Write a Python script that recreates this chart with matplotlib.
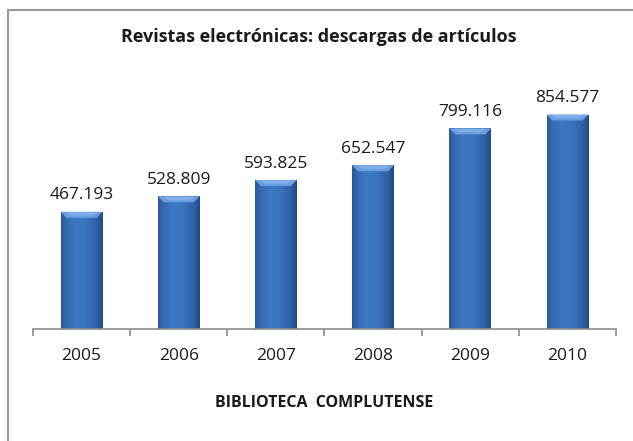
import numpy as np
import matplotlib
matplotlib.use("Agg")
import matplotlib.pyplot as plt
from matplotlib.colors import LinearSegmentedColormap
from matplotlib.patches import Polygon
from matplotlib.lines import Line2D

years = ["2005", "2006", "2007", "2008", "2009", "2010"]
downloads = [467193, 528809, 593825, 652547, 799116, 854577]
value_labels = ["467.193", "528.809", "593.825", "652.547", "799.116", "854.577"]
title = "Revistas electrónicas: descargas de artículos"
xlabel = "BIBLIOTECA  COMPLUTENSE"

plt.rcParams['font.family'] = ['Open Sans', 'DejaVu Sans']

W, H = 633, 441
fig = plt.figure(figsize=(W / 100, H / 100), dpi=100)
fig.patch.set_facecolor('white')

ax = fig.add_axes([33 / W, (H - 329) / H, (616 - 33) / W, (329 - 78) / H])
ymax = 1000000
ax.set_xlim(-0.5, len(years) - 0.5)
ax.set_ylim(0, ymax)

x = np.arange(len(years))
bw = 0.43
bars = ax.bar(x, downloads, width=bw, color='none', edgecolor='none', zorder=2)

cmap = LinearSegmentedColormap.from_list(
    'cyl', [(0.0, '#2a5896'), (0.12, '#3469b0'), (0.35, '#3c78c4'),
            (0.6, '#3a74bf'), (0.85, '#2f61a5'), (1.0, '#204a86')])
grad = np.linspace(0, 1, 256).reshape(1, -1)
px_per_unit = (329 - 78) / ymax
bevel = 6 / px_per_unit
for b in bars:
    x0, w, h = b.get_x(), b.get_width(), b.get_height()
    im = ax.imshow(grad, cmap=cmap, aspect='auto',
                   extent=[x0, x0 + w, 0, h], zorder=2, interpolation='bicubic')
    im.set_clip_path(b)
    poly = Polygon([[x0, h], [x0 + w, h], [x0 + w - 0.06, h - bevel],
                    [x0 + 0.06, h - bevel]], closed=True,
                   facecolor='#6d9fe0', edgecolor='none', zorder=3)
    ax.add_patch(poly)
    poly2 = Polygon([[x0 + 0.05, h - 1500], [x0 + w - 0.05, h - 1500],
                     [x0 + w - 0.1, h - bevel * 0.6], [x0 + 0.1, h - bevel * 0.6]],
                    closed=True, facecolor='#8ab6ee', edgecolor='none', zorder=3, alpha=0.7)
    ax.add_patch(poly2)

for xi, v, lab in zip(x, downloads, value_labels):
    ax.annotate(lab, (xi, v), xytext=(0, 6), textcoords='offset points',
                ha='center', va='bottom', fontsize=12.5, color='#1a1a1a')

for s in ['left', 'right', 'top']:
    ax.spines[s].set_visible(False)
ax.spines['bottom'].set_color('#8c8c8c')
ax.spines['bottom'].set_linewidth(1.2)
ax.set_yticks([])
ax.set_xticks(x)
ax.set_xticklabels(years, fontsize=12.5, color='#1a1a1a')
ax.tick_params(axis='x', which='major', length=0, pad=14)
ax.set_xticks(np.arange(-0.5, len(years)), minor=True)
ax.tick_params(axis='x', which='minor', length=5, width=1.2, color='#8c8c8c')
ax.set_xlabel(xlabel, fontsize=11.5, fontweight='bold', labelpad=22, color='#1a1a1a')

fig.text(319 / W, 1 - 37 / H, title, ha='center', va='center',
         fontsize=13, fontweight='bold', color='#1a1a1a')

fig.add_artist(Line2D([8 / W, 8 / W], [0, 1 - 9.5 / H], transform=fig.transFigure,
                      color='#999999', lw=1.5))
fig.add_artist(Line2D([8 / W, 1], [1 - 9.5 / H, 1 - 9.5 / H], transform=fig.transFigure,
                      color='#999999', lw=1.5))

fig.savefig('out.png', dpi=100, facecolor='white')
